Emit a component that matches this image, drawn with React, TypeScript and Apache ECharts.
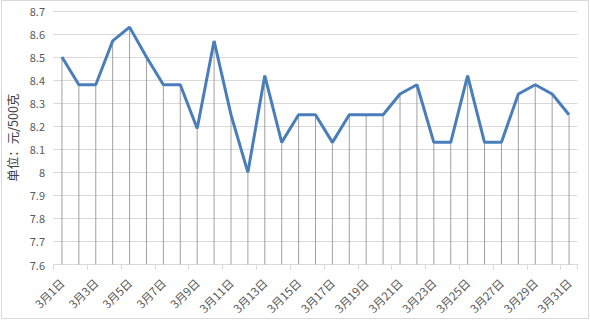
import React, { useEffect, useRef } from "react";
import * as echarts from "echarts";

const days: string[] = Array.from({ length: 31 }, (_, i) => `3月${i + 1}日`);
const prices: number[] = [
  8.5, 8.38, 8.38, 8.57, 8.63, 8.5, 8.38, 8.38, 8.19, 8.57,
  8.25, 8.0, 8.42, 8.13, 8.25, 8.25, 8.13, 8.25, 8.25, 8.25,
  8.34, 8.38, 8.13, 8.13, 8.42, 8.13, 8.13, 8.34, 8.38, 8.34,
  8.25,
];
const yMin = 7.6;
const yMax = 8.7;
const yStep = 0.1;
const yName = "单位：元/500克";

export default function App() {
  const ref = useRef<HTMLDivElement>(null);
  useEffect(() => {
    if (!ref.current) return;
    const chart = echarts.init(ref.current, null, { renderer: "svg" });
    const font = "'Noto Sans CJK SC', 'Microsoft YaHei', sans-serif";
    chart.setOption({
      animation: false,
      grid: {
        left: 53.5,
        right: 12.5,
        top: 11,
        bottom: 55.5,
        containLabel: false,
        outerBoundsMode: "none",
      },
      graphic: [
        {
          type: "rect",
          shape: { x: 1.5, y: 0.5, width: 587, height: 318 },
          style: { fill: "none", stroke: "#d9d9d9", lineWidth: 1 },
          silent: true,
        },
      ],
      xAxis: {
        type: "category",
        data: days,
        boundaryGap: true,
        axisLine: { show: true, lineStyle: { color: "#d9d9d9", width: 1 } },
        axisTick: { show: true, interval: 1, length: 5, lineStyle: { color: "#d9d9d9" } },
        axisLabel: {
          interval: 1,
          rotate: 45,
          fontSize: 11.5,
          color: "#595959",
          fontFamily: font,
          margin: 16,
        },
        splitLine: { show: false },
      },
      yAxis: {
        type: "value",
        min: yMin,
        max: yMax,
        interval: yStep,
        name: yName,
        nameLocation: "middle",
        nameGap: 34,
        nameTextStyle: { fontSize: 12.5, color: "#404040", fontFamily: font },
        axisLine: { show: false },
        axisTick: { show: false },
        axisLabel: {
          fontSize: 11,
          color: "#595959",
          fontFamily: font,
          margin: 8.5,
          formatter: (v: number) => String(Math.round(v * 10) / 10),
        },
        splitLine: { show: true, lineStyle: { color: "#d9d9d9", width: 1 } },
      },
      series: [
        {
          type: "bar",
          data: prices,
          barWidth: 1,
          clip: true,
          itemStyle: { color: "#a0a0a0" },
          silent: true,
          z: 1,
        },
        {
          type: "line",
          data: prices,
          symbol: "none",
          lineStyle: { color: "#4a7ebb", width: 3 },
          z: 3,
        },
      ],
    });
    return () => chart.dispose();
  }, []);
  return (
    <div
      ref={ref}
      style={{ position: "absolute", left: 0, top: 0, width: 590, height: 320 }}
    />
  );
}
